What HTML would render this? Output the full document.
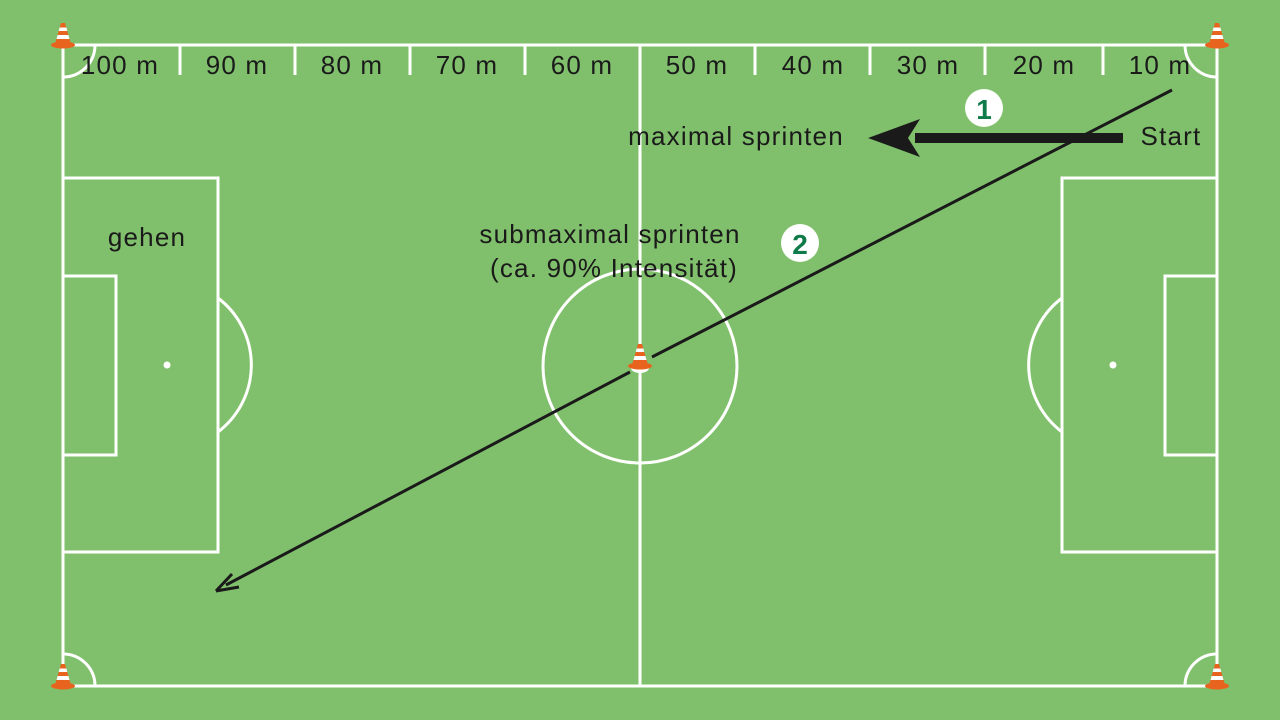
<!DOCTYPE html>
<html><head><meta charset="utf-8"><style>
body{margin:0;background:#80c06c;}
svg{display:block}
text{font-family:"Liberation Sans",sans-serif;fill:#1a1a1a;font-size:26px;letter-spacing:1.2px}
</style></head><body>
<svg width="1280" height="720" viewBox="0 0 1280 720">
<defs>
<g id="cone">
<ellipse cx="0" cy="0" rx="12" ry="3.5" fill="#e8641e"/>
<path d="M-8,-1 L-2,-22 L2,-22 L8,-1 Z" fill="#e8641e"/>
<path d="M-6.5,-6 L6.5,-6 L5.4,-10 L-5.4,-10 Z M-4.3,-14 L4.3,-14 L3.4,-17.5 L-3.4,-17.5 Z" fill="#fff"/>
</g>
</defs>
<g fill="none" stroke="#fff" stroke-width="3">
<rect x="63" y="45" width="1154" height="641"/>
<line x1="640" y1="45" x2="640" y2="686"/>
<circle cx="640" cy="366" r="97"/>
<rect x="63" y="178" width="155" height="374"/>
<rect x="63" y="276" width="53" height="179"/>
<rect x="1062" y="178" width="155" height="374"/>
<rect x="1165" y="276" width="52" height="179"/>
<path d="M218,298 A84,84 0 0 1 218,432"/>
<path d="M1062,298 A84,84 0 0 0 1062,432"/>
<path d="M95,45 A32,32 0 0 1 63,77"/>
<path d="M1185,45 A32,32 0 0 0 1217,77"/>
<path d="M63,654 A32,32 0 0 1 95,686"/>
<path d="M1217,654 A32,32 0 0 0 1185,686"/>
<path d="M180,45v30M295,45v30M410,45v30M525,45v30M755,45v30M870,45v30M985,45v30M1103,45v30"/>
</g>
<circle cx="167" cy="365" r="3.5" fill="#fff"/>
<circle cx="1113" cy="365" r="3.5" fill="#fff"/>
<g text-anchor="middle">
<text x="120" y="74">100 m</text><text x="237" y="74">90 m</text><text x="352" y="74">80 m</text>
<text x="467" y="74">70 m</text><text x="582" y="74">60 m</text><text x="697" y="74">50 m</text>
<text x="813" y="74">40 m</text><text x="928" y="74">30 m</text><text x="1044" y="74">20 m</text>
<text x="1160" y="74">10 m</text>
<text x="736" y="145">maximal sprinten</text>
<text x="1171" y="145">Start</text>
<text x="147" y="246">gehen</text>
<text x="610" y="243">submaximal sprinten</text>
<text x="614" y="277">(ca. 90% Intensität)</text>
</g>
<line x1="1172" y1="90" x2="652" y2="357" stroke="#1a1a1a" stroke-width="3"/>
<line x1="630" y1="372" x2="226" y2="585" stroke="#1a1a1a" stroke-width="3"/>
<path d="M216,591 L232,574 M216,591 L239,587" stroke="#1a1a1a" stroke-width="3" fill="none"/>
<line x1="915" y1="138" x2="1123" y2="138" stroke="#1a1a1a" stroke-width="10"/>
<path d="M868,138 L920,119 L908,138 L920,157 Z" fill="#1a1a1a"/>
<circle cx="984" cy="108" r="19" fill="#fff"/>
<text x="984" y="119" text-anchor="middle" style="fill:#0f7a4a;font-weight:bold;font-size:28px;letter-spacing:0">1</text>
<circle cx="800" cy="243" r="19" fill="#fff"/>
<text x="800" y="254" text-anchor="middle" style="fill:#0f7a4a;font-weight:bold;font-size:28px;letter-spacing:0">2</text>
<ellipse cx="640" cy="368" rx="9" ry="5" fill="#fff"/>
<use href="#cone" x="640" y="366"/>
<use href="#cone" x="63" y="45"/>
<use href="#cone" x="1217" y="45"/>
<use href="#cone" x="63" y="686"/>
<use href="#cone" x="1217" y="686"/>
</svg>
</body></html>
